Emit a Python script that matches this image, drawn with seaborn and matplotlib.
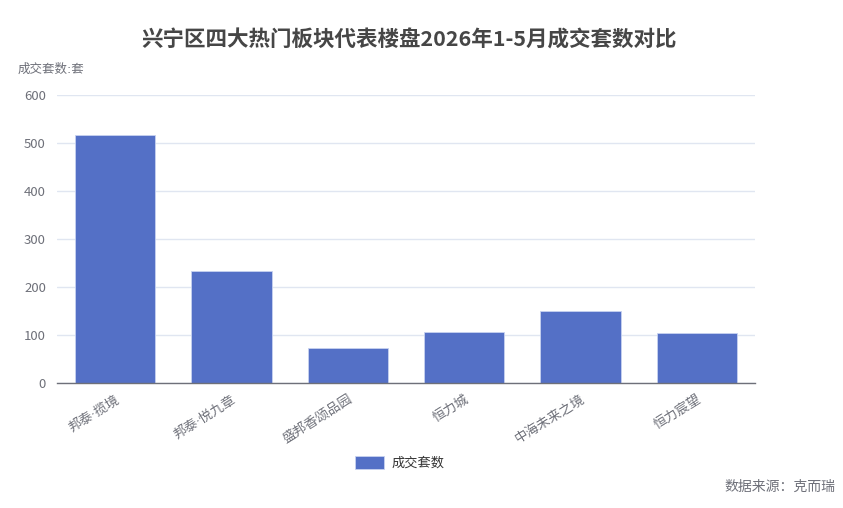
import matplotlib
matplotlib.use("Agg")
import matplotlib.pyplot as plt
import seaborn as sns
import pandas as pd
from matplotlib.ticker import FixedLocator

sns.set_style("white")
plt.rcParams['font.family'] = ['Noto Sans CJK SC', 'DejaVu Sans']

categories = ["邦泰·揽境", "邦泰·悦九章", "盛邦香颂品园", "恒力城", "中海未来之境", "恒力宸望"]
values = [516, 233, 72, 107, 151, 104]
series_name = "成交套数"
yticks = [0, 100, 200, 300, 400, 500, 600]

df = pd.DataFrame({"楼盘": categories, series_name: values})

W, H = 843, 508
fig = plt.figure(figsize=(W / 100, H / 100), dpi=100)
ax = fig.add_axes([57 / W, (H - 383) / H, 698 / W, 288 / H])

sns.barplot(data=df, x="楼盘", y=series_name, ax=ax, color="#5470C6",
            width=0.69, saturation=1, label=series_name, legend=False,
            edgecolor="#c7d2f0", linewidth=0.6)

ax.set_xlim(-0.5, len(categories) - 0.5)
ax.set_ylim(0, 600)
ax.set_yticks(yticks)
ax.grid(axis="y", color="#E0E6F1", linewidth=1)
ax.set_axisbelow(True)
for s in ["top", "right", "left"]:
    ax.spines[s].set_visible(False)
ax.spines["bottom"].set_color("#6E7079")
ax.spines["bottom"].set_linewidth(1)

ax.tick_params(axis="y", length=0, labelsize=9.5, labelcolor="#6E7079", pad=8)
ax.tick_params(axis="x", which="major", length=0, labelsize=9.5, labelcolor="#6E7079", pad=7)
ax.xaxis.set_minor_locator(FixedLocator([i - 0.5 for i in range(len(categories) + 1)]))
ax.tick_params(axis="x", which="minor", length=5, color="#6E7079", width=1)
plt.setp(ax.get_xticklabels(), rotation=32, ha="right", rotation_mode="anchor",
         family=['DejaVu Sans', 'Noto Sans CJK SC'])
ax.set_xlabel("")
ax.set_ylabel("")

fig.text(409 / W, 1 - 40 / H, "兴宁区四大热门板块代表楼盘2026年1-5月成交套数对比",
         ha="center", va="center", fontsize=15.5, fontweight="bold", color="#464646")
fig.text(18 / W, 1 - 69 / H, "成交套数:套", ha="left", va="center",
         fontsize=9, color="#6E7079", family=['DejaVu Sans', 'Noto Sans CJK SC'])

handles, labels = ax.get_legend_handles_labels()
leg = fig.legend(handles, labels, loc="center", bbox_to_anchor=(400 / W, 1 - 463 / H),
                 frameon=False, fontsize=9.5, handlelength=2.2, handleheight=1.1,
                 handletextpad=0.6)
for t in leg.get_texts():
    t.set_color("#333333")

fig.text(835 / W, 1 - 487 / H, "数据来源：克而瑞", ha="right", va="center",
         fontsize=10, color="#6E7079")

fig.savefig("out.png", dpi=100)
